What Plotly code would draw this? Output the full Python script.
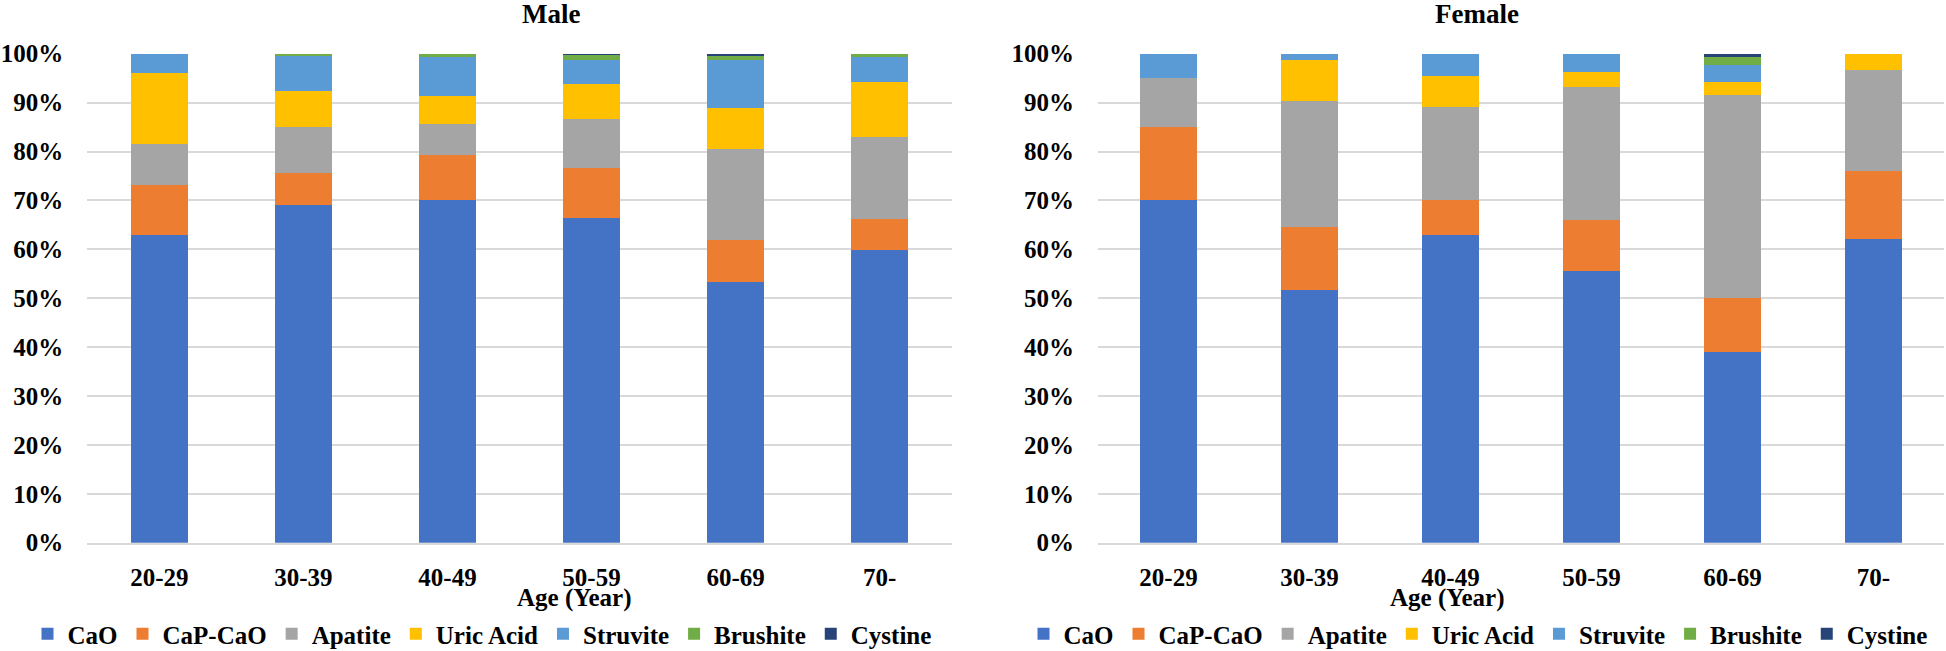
import plotly.graph_objects as go

ages = ["20-29", "30-39", "40-49", "50-59", "60-69", "70-"]
stones = ["CaO", "CaP-CaO", "Apatite", "Uric Acid", "Struvite", "Brushite", "Cystine"]
colors = ["#4472C4", "#ED7D31", "#A5A5A5", "#FFC000", "#5B9BD5", "#70AD47", "#264478"]

# Male composition (%) per age group
male_cao      = [63.0, 69.1, 70.0, 66.5, 53.3, 59.9]
male_capcao   = [10.2, 6.5, 9.25, 10.2, 8.7, 6.3]
male_apatite  = [8.3, 9.4, 6.35, 9.9, 18.6, 16.7]
male_uric     = [14.5, 7.4, 5.8, 7.2, 8.2, 11.4]
male_struvite = [4.0, 7.2, 8.0, 5.0, 10.0, 4.95]
male_brushite = [0.0, 0.4, 0.6, 1.0, 0.8, 0.75]
male_cystine  = [0.0, 0.0, 0.0, 0.2, 0.4, 0.0]

# Female composition (%) per age group
female_cao      = [70.0, 51.7, 63.0, 55.6, 38.9, 62.1]
female_capcao   = [15.0, 12.9, 7.0, 10.4, 11.2, 13.9]
female_apatite  = [10.0, 25.8, 19.1, 27.1, 41.4, 20.6]
female_uric     = [0.0, 8.4, 6.3, 3.1, 2.7, 3.4]
female_struvite = [5.0, 1.2, 4.6, 3.8, 3.4, 0.0]
female_brushite = [0.0, 0.0, 0.0, 0.0, 1.65, 0.0]
female_cystine  = [0.0, 0.0, 0.0, 0.0, 0.75, 0.0]

male = [male_cao, male_capcao, male_apatite, male_uric, male_struvite, male_brushite, male_cystine]
female = [female_cao, female_capcao, female_apatite, female_uric, female_struvite, female_brushite, female_cystine]

W, H = 1946, 651
FONT = "Liberation Serif"

def px_x(v):
    return v / W

def px_y(v):
    return 1 - v / H

fig = go.Figure()
for name, col, vals in zip(stones, colors, male):
    fig.add_trace(go.Bar(x=ages, y=vals, name=name, marker=dict(color=col, line=dict(width=0)),
                         xaxis="x", yaxis="y", legend="legend"))
for name, col, vals in zip(stones, colors, female):
    fig.add_trace(go.Bar(x=ages, y=vals, name=name, marker=dict(color=col, line=dict(width=0)),
                         xaxis="x2", yaxis="y2", legend="legend2"))

ydom = [px_y(542.7), px_y(53.7)]
male_dom = [px_x(87.3), px_x(951.7)]
female_dom = [px_x(1098), px_x(1944)]

yax = dict(range=[0, 100], dtick=10, ticksuffix="%", showgrid=True, gridcolor="#D9D9D9",
           gridwidth=1.5, zeroline=False, showline=False, fixedrange=True, automargin=False,
           tickfont=dict(family=FONT, size=25, color="black", weight="bold"),
           ticklabelstandoff=23, domain=ydom)
xax = dict(showgrid=False, zeroline=False, showline=True, linecolor="#D9D9D9", linewidth=1.5,
           tickfont=dict(family=FONT, size=25, color="black", weight="bold"), automargin=False,
           ticklabelstandoff=12, ticks="")

legend_common = dict(orientation="h", yanchor="middle", xanchor="center", traceorder="normal",
                     font=dict(family=FONT, size=25, color="black", weight="bold"),
                     itemwidth=30, tracegroupgap=0, bgcolor="rgba(0,0,0,0)")

fig.update_layout(
    width=W, height=H,
    margin=dict(l=0, r=0, t=0, b=0, autoexpand=False),
    paper_bgcolor="white", plot_bgcolor="white",
    barmode="stack", bargap=0.6,
    font=dict(family=FONT, color="black", weight="bold"),
    xaxis=dict(domain=male_dom, anchor="y", **xax),
    yaxis=dict(anchor="x", **yax),
    xaxis2=dict(domain=female_dom, anchor="y2", **xax),
    yaxis2=dict(anchor="x2", **yax),
    legend=dict(x=px_x(482), y=px_y(634), **legend_common),
    legend2=dict(x=px_x(1478), y=px_y(634), **legend_common),
    annotations=[
        dict(text="Male", x=px_x(519.5), y=px_y(14), xref="paper", yref="paper",
             showarrow=False, font=dict(family=FONT, size=27, weight="bold"), yanchor="middle"),
        dict(text="Female", x=px_x(1521), y=px_y(14), xref="paper", yref="paper",
             showarrow=False, font=dict(family=FONT, size=27, weight="bold"), yanchor="middle"),
        dict(text="Age (Year)", x=px_x(515), y=px_y(598), xref="paper", yref="paper",
             showarrow=False, font=dict(family=FONT, size=25, weight="bold"), yanchor="middle"),
        dict(text="Age (Year)", x=px_x(1507), y=px_y(598), xref="paper", yref="paper",
             showarrow=False, font=dict(family=FONT, size=25, weight="bold"), yanchor="middle"),
    ],
)

fig.write_html("out.html", config={"displayModeBar": False},
               post_script="document.body.style.margin='0px';document.body.style.overflow='hidden';")
